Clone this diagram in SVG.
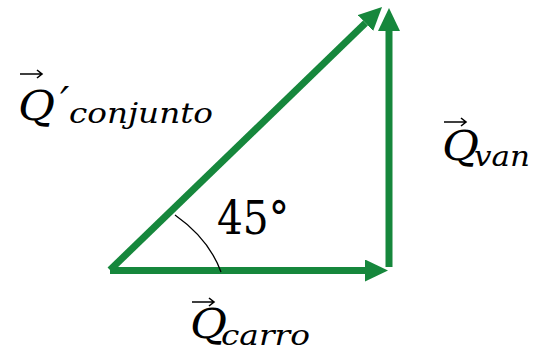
<svg xmlns="http://www.w3.org/2000/svg" width="534" height="353" viewBox="0 0 534 353">
<style>
.vec{stroke:#16873c;stroke-width:7;fill:none;marker-end:url(#head)}
.arc{stroke:#000;stroke-width:1.3;fill:none}
.acc{stroke:#000;stroke-width:1.6;fill:none}
text{font-family:'DejaVu Serif','Liberation Serif',serif;fill:#000}
.q{font-style:italic;font-size:41px}
.sub{font-style:italic;font-size:27px}
.ang{font-size:47px}
</style>
<defs>
<marker id="head" viewBox="0 0 23 22" refX="0" refY="11" markerWidth="23" markerHeight="22" markerUnits="userSpaceOnUse" orient="auto">
<path d="M0,0 L23,11 L0,22 Z" fill="#16873c"/>
</marker>
</defs>
<g id="connectors">
<line class="vec" x1="110" y1="270.5" x2="365" y2="270.5"/>
<line class="vec" x1="389" y1="267" x2="389" y2="31"/>
<line class="vec" x1="110" y1="270" x2="365.5" y2="23"/>
</g>
<g id="angle">
<path class="arc" d="M175,215 Q209,239 221,272"/>
<text class="ang" x="217" y="234" textLength="72" lengthAdjust="spacingAndGlyphs">45°</text>
</g>
<g id="label-conjunto">
<path class="acc" d="M20,74 H42 M37,70 L42,74 L37,78"/>
<text class="q" x="18" y="120" textLength="37" lengthAdjust="spacingAndGlyphs">Q</text>
<text class="q" x="60" y="116" font-size="42">′</text>
<text class="sub" x="69" y="123" textLength="144" lengthAdjust="spacingAndGlyphs">conjunto</text>
</g>
<g id="label-van">
<path class="acc" d="M444,122 H466 M461,118 L466,122 L461,126"/>
<text class="q" x="442" y="160" textLength="37" lengthAdjust="spacingAndGlyphs">Q</text>
<text class="sub" x="474" y="166" textLength="56" lengthAdjust="spacingAndGlyphs">van</text>
</g>
<g id="label-carro">
<path class="acc" d="M192,302 H214 M209,298 L214,302 L209,306"/>
<text class="q" x="190" y="338" textLength="37" lengthAdjust="spacingAndGlyphs">Q</text>
<text class="sub" x="221" y="345" textLength="89" lengthAdjust="spacingAndGlyphs">carro</text>
</g>
</svg>
